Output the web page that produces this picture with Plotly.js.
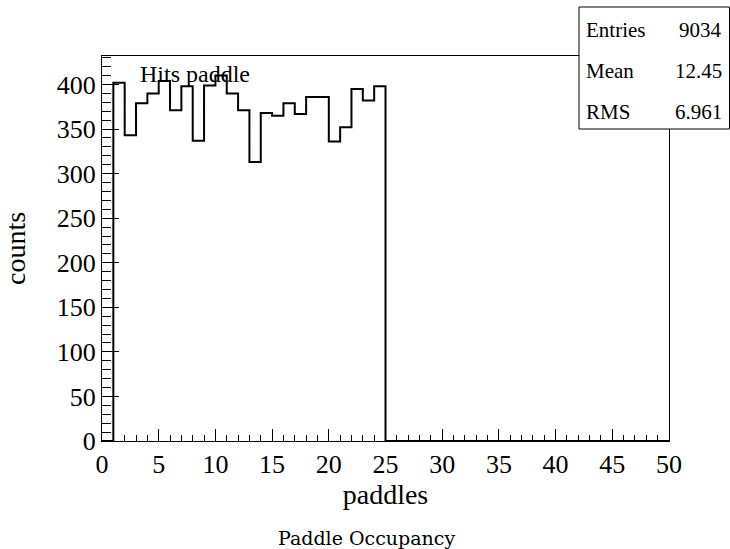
<!DOCTYPE html>
<html>
<head>
<meta charset="utf-8">
<script src="https://cdn.plot.ly/plotly-3.0.1.min.js"></script>
<style>html,body{margin:0;padding:0;background:#fff;}#chart{width:730px;height:549px;}</style>
</head>
<body>
<div id="chart"></div>
<script>
// Bin edges (lower edge of each filled bin, width 1) and counts
const binLow = [1,2,3,4,5,6,7,8,9,10,11,12,13,14,15,16,17,18,19,20,21,22,23,24];
const counts = [402,343,379,390,404,371,398,337,399,410,390,371,313,368,365,379,367,386,386,336,352,395,382,398];
const xRange = [0, 50];
const yRange = [0, 432];
const statLabels = ["Entries", "Mean", "RMS"];
const statValues = ["9034", "12.45", "6.961"];
const histName = "Hits paddle";
const chartTitle = "Paddle Occupancy";
const xTitle = "paddles";
const yTitle = "counts";

// Build step outline from the data
const xs = [xRange[0]];
const ys = [0];
for (let i = 0; i < binLow.length; i++) { xs.push(binLow[i]); ys.push(counts[i]); }
xs.push(binLow[binLow.length - 1] + 1); ys.push(0);
xs.push(xRange[1]); ys.push(0);

const serif = "Liberation Serif, Times New Roman, serif";

const trace = {
  x: xs, y: ys, type: "scatter", mode: "lines",
  line: {shape: "hv", color: "#000", width: 2},
  hoverinfo: "skip", showlegend: false
};

const L = 102, R = 669, T = 56, B = 441;
const pw = R - L, ph = B - T;
const px = v => (v - L) / pw;
const py = v => (B - v) / ph;

const annotations = [
  {text: histName, xref: "paper", yref: "paper", x: px(138), y: py(74), xanchor: "left", yanchor: "middle",
   showarrow: false, font: {family: serif, size: 24, color: "#000"}},
  {text: chartTitle, xref: "paper", yref: "paper", x: px(366), y: py(538), xanchor: "center", yanchor: "middle",
   showarrow: false, font: {family: "DejaVu Serif, serif", size: 19, color: "#000"}}
];
const rowY = [30, 71, 112];
for (let i = 0; i < statLabels.length; i++) {
  annotations.push({text: statLabels[i], xref: "paper", yref: "paper", x: px(584), y: py(rowY[i]),
    xanchor: "left", yanchor: "middle", showarrow: false, font: {family: serif, size: 21, color: "#000"}});
  annotations.push({text: statValues[i], xref: "paper", yref: "paper", x: px(724), y: py(rowY[i]),
    xanchor: "right", yanchor: "middle", showarrow: false, font: {family: serif, size: 21, color: "#000"}});
}

const layout = {
  width: 730, height: 549,
  margin: {l: L, r: 730 - R, t: T, b: 549 - B},
  paper_bgcolor: "#fff", plot_bgcolor: "#fff",
  showlegend: false,
  xaxis: {
    range: xRange, autorange: false, showgrid: false, zeroline: false,
    showline: true, linecolor: "#000", linewidth: 1, mirror: true,
    ticks: "inside", tickmode: "linear", tick0: 0, dtick: 5, ticklen: 12, tickcolor: "#000",
    minor: {ticks: "inside", dtick: 1, ticklen: 6, tickcolor: "#000"},
    tickfont: {family: serif, size: 26, color: "#000"},
    title: {text: xTitle, font: {family: serif, size: 28, color: "#000"}, standoff: 5}
  },
  yaxis: {
    range: yRange, autorange: false, showgrid: false, zeroline: false,
    showline: true, linecolor: "#000", linewidth: 1, mirror: true,
    ticks: "inside", tickmode: "linear", tick0: 0, dtick: 50, ticklen: 17, tickcolor: "#000",
    minor: {ticks: "inside", dtick: 10, ticklen: 9, tickcolor: "#000"},
    tickfont: {family: serif, size: 26, color: "#000"},
    title: {text: yTitle, font: {family: serif, size: 28, color: "#000"}, standoff: 24}
  },
  shapes: [
    {type: "rect", xref: "paper", yref: "paper", x0: px(579), x1: px(729.5), y0: py(129), y1: py(7),
     line: {color: "#000", width: 1}, fillcolor: "#fff", layer: "above"}
  ],
  annotations: annotations
};

Plotly.newPlot("chart", [trace], layout, {staticPlot: true, displayModeBar: false});
</script>
</body>
</html>
